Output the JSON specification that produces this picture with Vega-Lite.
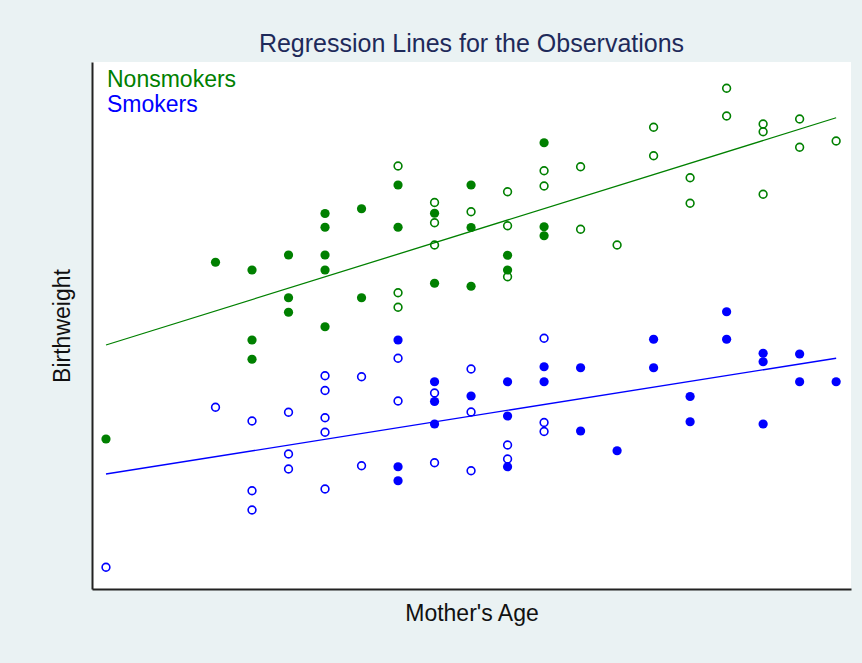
{
  "$schema": "https://vega.github.io/schema/vega-lite/v6.json",
  "width": 759,
  "height": 527,
  "autosize": {"type": "none"},
  "padding": {"left": 92, "top": 62, "right": 11, "bottom": 74},
  "background": "#eaf2f3",
  "title": {
    "text": "Regression Lines for the Observations",
    "font": "Liberation Sans",
    "fontSize": 25,
    "fontWeight": "normal",
    "color": "#1e2a5a",
    "anchor": "middle",
    "frame": "group",
    "offset": 5
  },
  "config": {
    "view": {"fill": "white", "stroke": null},
    "font": "Liberation Sans",
    "axis": {
      "ticks": false,
      "labels": false,
      "grid": false,
      "domainColor": "#222222",
      "domainWidth": 2,
      "titleFont": "Liberation Sans",
      "titleFontSize": 23,
      "titleFontWeight": "normal",
      "titleColor": "#111111"
    }
  },
  "datasets": {
    "points": [
      {"age": 15, "weight": 2200, "group": "Nonsmokers", "marker": "filled"},
      {"age": 18, "weight": 3614, "group": "Nonsmokers", "marker": "filled"},
      {"age": 19, "weight": 3552, "group": "Nonsmokers", "marker": "filled"},
      {"age": 19, "weight": 2992, "group": "Nonsmokers", "marker": "filled"},
      {"age": 19, "weight": 2838, "group": "Nonsmokers", "marker": "filled"},
      {"age": 20, "weight": 3672, "group": "Nonsmokers", "marker": "filled"},
      {"age": 20, "weight": 3330, "group": "Nonsmokers", "marker": "filled"},
      {"age": 20, "weight": 3214, "group": "Nonsmokers", "marker": "filled"},
      {"age": 21, "weight": 4004, "group": "Nonsmokers", "marker": "filled"},
      {"age": 21, "weight": 3894, "group": "Nonsmokers", "marker": "filled"},
      {"age": 21, "weight": 3672, "group": "Nonsmokers", "marker": "filled"},
      {"age": 21, "weight": 3552, "group": "Nonsmokers", "marker": "filled"},
      {"age": 21, "weight": 3098, "group": "Nonsmokers", "marker": "filled"},
      {"age": 22, "weight": 4042, "group": "Nonsmokers", "marker": "filled"},
      {"age": 22, "weight": 3330, "group": "Nonsmokers", "marker": "filled"},
      {"age": 23, "weight": 4384, "group": "Nonsmokers", "marker": "hollow"},
      {"age": 23, "weight": 4232, "group": "Nonsmokers", "marker": "filled"},
      {"age": 23, "weight": 3894, "group": "Nonsmokers", "marker": "filled"},
      {"age": 23, "weight": 3370, "group": "Nonsmokers", "marker": "hollow"},
      {"age": 23, "weight": 3254, "group": "Nonsmokers", "marker": "hollow"},
      {"age": 24, "weight": 4092, "group": "Nonsmokers", "marker": "hollow"},
      {"age": 24, "weight": 4006, "group": "Nonsmokers", "marker": "filled"},
      {"age": 24, "weight": 3930, "group": "Nonsmokers", "marker": "hollow"},
      {"age": 24, "weight": 3752, "group": "Nonsmokers", "marker": "hollow"},
      {"age": 24, "weight": 3446, "group": "Nonsmokers", "marker": "filled"},
      {"age": 25, "weight": 4232, "group": "Nonsmokers", "marker": "filled"},
      {"age": 25, "weight": 4018, "group": "Nonsmokers", "marker": "hollow"},
      {"age": 25, "weight": 3892, "group": "Nonsmokers", "marker": "filled"},
      {"age": 25, "weight": 3422, "group": "Nonsmokers", "marker": "filled"},
      {"age": 26, "weight": 4178, "group": "Nonsmokers", "marker": "hollow"},
      {"age": 26, "weight": 3906, "group": "Nonsmokers", "marker": "hollow"},
      {"age": 26, "weight": 3670, "group": "Nonsmokers", "marker": "filled"},
      {"age": 26, "weight": 3552, "group": "Nonsmokers", "marker": "filled"},
      {"age": 26, "weight": 3498, "group": "Nonsmokers", "marker": "hollow"},
      {"age": 27, "weight": 4570, "group": "Nonsmokers", "marker": "filled"},
      {"age": 27, "weight": 4346, "group": "Nonsmokers", "marker": "hollow"},
      {"age": 27, "weight": 4224, "group": "Nonsmokers", "marker": "hollow"},
      {"age": 27, "weight": 3898, "group": "Nonsmokers", "marker": "filled"},
      {"age": 27, "weight": 3826, "group": "Nonsmokers", "marker": "filled"},
      {"age": 28, "weight": 4378, "group": "Nonsmokers", "marker": "hollow"},
      {"age": 28, "weight": 3878, "group": "Nonsmokers", "marker": "hollow"},
      {"age": 29, "weight": 3752, "group": "Nonsmokers", "marker": "hollow"},
      {"age": 30, "weight": 4694, "group": "Nonsmokers", "marker": "hollow"},
      {"age": 30, "weight": 4466, "group": "Nonsmokers", "marker": "hollow"},
      {"age": 31, "weight": 4290, "group": "Nonsmokers", "marker": "hollow"},
      {"age": 31, "weight": 4086, "group": "Nonsmokers", "marker": "hollow"},
      {"age": 32, "weight": 5006, "group": "Nonsmokers", "marker": "hollow"},
      {"age": 32, "weight": 4784, "group": "Nonsmokers", "marker": "hollow"},
      {"age": 33, "weight": 4720, "group": "Nonsmokers", "marker": "hollow"},
      {"age": 33, "weight": 4658, "group": "Nonsmokers", "marker": "hollow"},
      {"age": 33, "weight": 4158, "group": "Nonsmokers", "marker": "hollow"},
      {"age": 34, "weight": 4760, "group": "Nonsmokers", "marker": "hollow"},
      {"age": 34, "weight": 4534, "group": "Nonsmokers", "marker": "hollow"},
      {"age": 35, "weight": 4584, "group": "Nonsmokers", "marker": "hollow"},
      {"age": 15, "weight": 1174, "group": "Smokers", "marker": "hollow"},
      {"age": 18, "weight": 2454, "group": "Smokers", "marker": "hollow"},
      {"age": 19, "weight": 2344, "group": "Smokers", "marker": "hollow"},
      {"age": 19, "weight": 1786, "group": "Smokers", "marker": "hollow"},
      {"age": 19, "weight": 1632, "group": "Smokers", "marker": "hollow"},
      {"age": 20, "weight": 2414, "group": "Smokers", "marker": "hollow"},
      {"age": 20, "weight": 2080, "group": "Smokers", "marker": "hollow"},
      {"age": 20, "weight": 1960, "group": "Smokers", "marker": "hollow"},
      {"age": 21, "weight": 2706, "group": "Smokers", "marker": "hollow"},
      {"age": 21, "weight": 2588, "group": "Smokers", "marker": "hollow"},
      {"age": 21, "weight": 2370, "group": "Smokers", "marker": "hollow"},
      {"age": 21, "weight": 2254, "group": "Smokers", "marker": "hollow"},
      {"age": 21, "weight": 1800, "group": "Smokers", "marker": "hollow"},
      {"age": 22, "weight": 2698, "group": "Smokers", "marker": "hollow"},
      {"age": 22, "weight": 1986, "group": "Smokers", "marker": "hollow"},
      {"age": 23, "weight": 2992, "group": "Smokers", "marker": "filled"},
      {"age": 23, "weight": 2846, "group": "Smokers", "marker": "hollow"},
      {"age": 23, "weight": 2504, "group": "Smokers", "marker": "hollow"},
      {"age": 23, "weight": 1978, "group": "Smokers", "marker": "filled"},
      {"age": 23, "weight": 1866, "group": "Smokers", "marker": "filled"},
      {"age": 24, "weight": 2658, "group": "Smokers", "marker": "filled"},
      {"age": 24, "weight": 2568, "group": "Smokers", "marker": "hollow"},
      {"age": 24, "weight": 2500, "group": "Smokers", "marker": "filled"},
      {"age": 24, "weight": 2320, "group": "Smokers", "marker": "filled"},
      {"age": 24, "weight": 2010, "group": "Smokers", "marker": "hollow"},
      {"age": 25, "weight": 2760, "group": "Smokers", "marker": "hollow"},
      {"age": 25, "weight": 2544, "group": "Smokers", "marker": "filled"},
      {"age": 25, "weight": 2416, "group": "Smokers", "marker": "hollow"},
      {"age": 25, "weight": 1946, "group": "Smokers", "marker": "hollow"},
      {"age": 26, "weight": 2658, "group": "Smokers", "marker": "filled"},
      {"age": 26, "weight": 2384, "group": "Smokers", "marker": "filled"},
      {"age": 26, "weight": 2152, "group": "Smokers", "marker": "hollow"},
      {"age": 26, "weight": 2040, "group": "Smokers", "marker": "hollow"},
      {"age": 26, "weight": 1978, "group": "Smokers", "marker": "filled"},
      {"age": 27, "weight": 3006, "group": "Smokers", "marker": "hollow"},
      {"age": 27, "weight": 2778, "group": "Smokers", "marker": "filled"},
      {"age": 27, "weight": 2658, "group": "Smokers", "marker": "filled"},
      {"age": 27, "weight": 2332, "group": "Smokers", "marker": "hollow"},
      {"age": 27, "weight": 2260, "group": "Smokers", "marker": "hollow"},
      {"age": 28, "weight": 2770, "group": "Smokers", "marker": "filled"},
      {"age": 28, "weight": 2264, "group": "Smokers", "marker": "filled"},
      {"age": 29, "weight": 2106, "group": "Smokers", "marker": "filled"},
      {"age": 30, "weight": 2998, "group": "Smokers", "marker": "filled"},
      {"age": 30, "weight": 2770, "group": "Smokers", "marker": "filled"},
      {"age": 31, "weight": 2540, "group": "Smokers", "marker": "filled"},
      {"age": 31, "weight": 2338, "group": "Smokers", "marker": "filled"},
      {"age": 32, "weight": 3218, "group": "Smokers", "marker": "filled"},
      {"age": 32, "weight": 2998, "group": "Smokers", "marker": "filled"},
      {"age": 33, "weight": 2886, "group": "Smokers", "marker": "filled"},
      {"age": 33, "weight": 2818, "group": "Smokers", "marker": "filled"},
      {"age": 33, "weight": 2320, "group": "Smokers", "marker": "filled"},
      {"age": 34, "weight": 2880, "group": "Smokers", "marker": "filled"},
      {"age": 34, "weight": 2658, "group": "Smokers", "marker": "filled"},
      {"age": 35, "weight": 2658, "group": "Smokers", "marker": "filled"}
    ],
    "fits": [
      {"age": 15, "weight": 2952, "group": "Nonsmokers"},
      {"age": 35, "weight": 4770, "group": "Nonsmokers"},
      {"age": 15, "weight": 1920, "group": "Smokers"},
      {"age": 35, "weight": 2846, "group": "Smokers"}
    ]
  },
  "encoding": {
    "x": {
      "field": "age",
      "type": "quantitative",
      "scale": {"domain": [14.617, 35.407], "nice": false, "zero": false},
      "axis": {"title": "Mother's Age", "titlePadding": 13}
    },
    "y": {
      "field": "weight",
      "type": "quantitative",
      "scale": {"domain": [1000, 5216], "nice": false, "zero": false},
      "axis": {"title": "Birthweight", "titlePadding": 18}
    },
    "color": {
      "field": "group",
      "type": "nominal",
      "scale": {"domain": ["Nonsmokers", "Smokers"], "range": ["#008000", "#0000ff"]},
      "legend": {
        "title": null,
        "orient": "none",
        "legendX": -8,
        "legendY": 6,
        "padding": 0,
        "symbolOpacity": 0,
        "symbolSize": 0,
        "symbolStrokeWidth": 0,
        "labelOffset": 0,
        "labelFont": "Liberation Sans",
        "labelFontSize": 23,
        "rowPadding": 1,
        "encode": {
          "labels": {"update": {"fill": {"scale": "color", "field": "value"}}}
        }
      }
    }
  },
  "layer": [
    {
      "data": {"name": "fits"},
      "mark": {"type": "line", "strokeWidth": 1.3}
    },
    {
      "data": {"name": "points"},
      "transform": [{"filter": "datum.marker === 'filled'"}],
      "mark": {"type": "point", "shape": "circle", "filled": true, "size": 85, "opacity": 1}
    },
    {
      "data": {"name": "points"},
      "transform": [{"filter": "datum.marker === 'hollow'"}],
      "mark": {"type": "point", "shape": "circle", "filled": false, "size": 60, "strokeWidth": 1.6, "opacity": 1}
    }
  ]
}
